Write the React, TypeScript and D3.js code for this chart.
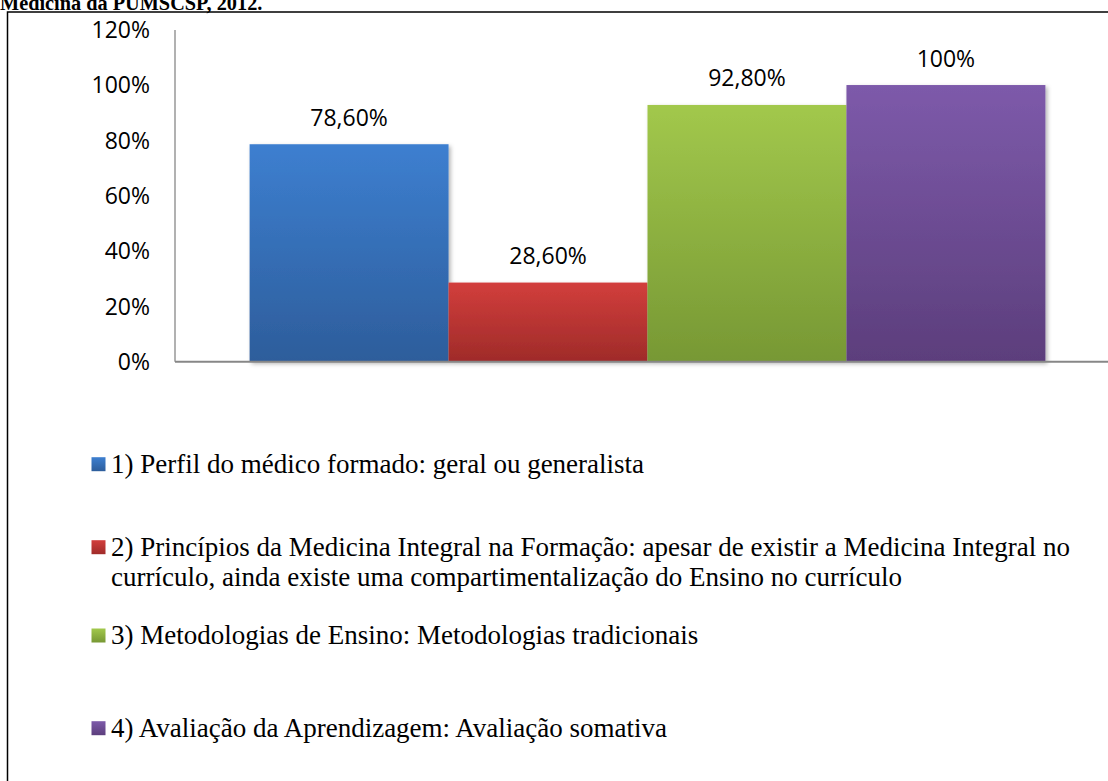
import React from "react";
import * as d3 from "d3";

const categories = [
  "1) Perfil do médico formado: geral ou generalista",
  "2) Princípios da Medicina Integral na Formação: apesar de existir a Medicina Integral no",
  "3) Metodologias de Ensino: Metodologias tradicionais",
  "4) Avaliação da Aprendizagem: Avaliação somativa",
];
const legendLines: string[][] = [
  ["1) Perfil do médico formado: geral ou generalista"],
  [
    "2) Princípios da Medicina Integral na Formação: apesar de existir a Medicina Integral no",
    "currículo, ainda existe uma compartimentalização do Ensino no currículo",
  ],
  ["3) Metodologias de Ensino: Metodologias tradicionais"],
  ["4) Avaliação da Aprendizagem: Avaliação somativa"],
];
const values = [0.786, 0.286, 0.928, 1.0];
const valueLabels = ["78,60%", "28,60%", "92,80%", "100%"];
const yTicks = [0, 0.2, 0.4, 0.6, 0.8, 1.0, 1.2];
const colorsTop = ["#3D7FD0", "#D23E3C", "#A2C84C", "#7D5AAA"];
const colorsBottom = ["#2D5D9B", "#9F2B29", "#779834", "#5C3E7C"];
const titleText = "Medicina da PUMSCSP, 2012.";

const W = 1108;
const H = 781;

export default function App() {
  const plotLeft = 175;
  const plotRight = 1120;
  const y = d3.scaleLinear().domain([0, 1.2]).range([361.7, 29.7]);
  const gapWidth = 0.75;
  const n = values.length;
  const bw = (plotRight - plotLeft) / (n + gapWidth);
  const groupStart = plotLeft + (gapWidth / 2) * bw;
  const x = d3
    .scaleBand<number>()
    .domain(d3.range(n))
    .range([groupStart, groupStart + n * bw])
    .padding(0);
  const fmt = d3.format(".0%");

  const legendBaselines = [472.7, 555.7, 644, 736.7];

  return (
    <div style={{ position: "fixed", left: 0, top: 0, width: W, height: H, background: "#fff" }}>
      <svg width={W} height={H} style={{ display: "block" }}>
        <defs>
          {colorsTop.map((c, i) => (
            <linearGradient key={i} id={`g${i}`} x1="0" y1="0" x2="0" y2="1">
              <stop offset="0%" stopColor={c} />
              <stop offset="100%" stopColor={colorsBottom[i]} />
            </linearGradient>
          ))}
          <filter id="sh" x="-10%" y="-10%" width="130%" height="130%">
            <feDropShadow dx="2" dy="2" stdDeviation="2" floodColor="#000" floodOpacity="0.3" />
          </filter>
        </defs>
        <rect x={0} y={0} width={W} height={H} fill="#fff" />
        <text
          x={0}
          y={9.5}
          fontFamily="'Liberation Serif', 'Times New Roman', serif"
          fontWeight="bold"
          fontSize={20.3}
          fill="#000"
        >
          {titleText}
        </text>
        <rect x={7.5} y={12} width={W + 20} height={H + 20} fill="none" stroke="#000" strokeWidth={1.5} />

        {/* y tick labels */}
        {yTicks.map((t) => (
          <text
            key={t}
            x={150}
            y={y(t) + 8.2}
            textAnchor="end"
            fontFamily="'Open Sans', sans-serif"
            fontSize={23}
            fill="#000"
          >
            {fmt(t)}
          </text>
        ))}

        {/* bars */}
        <g filter="url(#sh)">
          {values.map((v, i) => (
            <rect
              key={i}
              x={x(i)!}
              y={y(v)}
              width={x.bandwidth()}
              height={y(0) - y(v)}
              fill={`url(#g${i})`}
            />
          ))}
        </g>

        {/* axes */}
        <line x1={175} x2={175} y1={30} y2={y(0)} stroke="#878787" strokeWidth={1.3} />
        <line x1={175} x2={W + 10} y1={y(0)} y2={y(0)} stroke="#878787" strokeWidth={2} />

        {/* data labels */}
        {values.map((v, i) => (
          <text
            key={i}
            x={x(i)! + x.bandwidth() / 2}
            y={y(v) - 18.5}
            textAnchor="middle"
            fontFamily="'Open Sans', sans-serif"
            fontSize={23}
            fill="#000"
          >
            {valueLabels[i]}
          </text>
        ))}

        {/* legend */}
        {categories.map((c, i) => (
          <g key={i}>
            <rect
              x={91.5}
              y={legendBaselines[i] - 15.5}
              width={14}
              height={14}
              fill={`url(#g${i})`}
            />
            {legendLines[i].map((line, j) => (
              <text
                key={j}
                x={111}
                y={legendBaselines[i] + j * 30.3}
                fontFamily="'Liberation Serif', 'Times New Roman', serif"
                fontSize={27}
                fill="#000"
              >
                {line}
              </text>
            ))}
          </g>
        ))}
      </svg>
    </div>
  );
}
